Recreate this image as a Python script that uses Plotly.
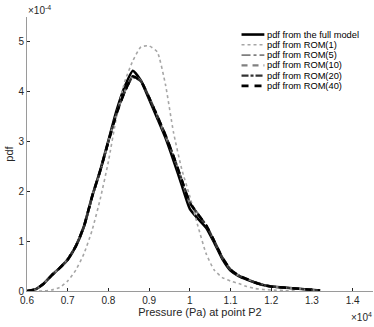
import plotly.graph_objects as go

# pressure grid (Pa) and pdf values (x 1e-4)
pressure = [6000, 6200, 6400, 6600, 6800, 7000, 7200, 7400, 7600, 7800,
            8000, 8200, 8400, 8600, 8800, 9000, 9200, 9400, 9600, 9800,
            10000, 10200, 10400, 10600, 10800, 11000, 11200, 11400, 11600, 11800,
            12000, 12300, 12600, 12900, 13200]

pdf_full = [0.0, 0.03, 0.14, 0.31, 0.46, 0.63, 0.9, 1.3, 1.9, 2.42,
            3.02, 3.62, 4.1, 4.42, 4.22, 3.85, 3.47, 3.08, 2.62, 2.13,
            1.65, 1.45, 1.27, 0.97, 0.64, 0.41, 0.3, 0.23, 0.17, 0.12,
            0.09, 0.07, 0.05, 0.03, 0.01]

pressure_rom1 = pressure[:31] + [12300, 12600]
pdf_rom1 = [0.0, 0.0, 0.0, 0.02, 0.07, 0.2, 0.42, 0.75, 1.22, 1.85,
            2.6, 3.5, 4.2, 4.62, 4.9, 4.92, 4.8, 4.15, 3.18, 2.45,
            1.9, 1.3, 0.75, 0.42, 0.27, 0.2, 0.15, 0.09, 0.05, 0.03,
            0.02, 0.01, 0.0]

pdf_rom5 = [0.0, 0.03, 0.14, 0.32, 0.47, 0.64, 0.91, 1.29, 1.88, 2.4,
            2.98, 3.55, 3.98, 4.28, 4.2, 3.9, 3.53, 3.15, 2.72, 2.25,
            1.8, 1.56, 1.33, 1.02, 0.68, 0.44, 0.32, 0.24, 0.18, 0.13,
            0.1, 0.07, 0.05, 0.03, 0.01]
pdf_rom10 = [0.0, 0.03, 0.14, 0.31, 0.46, 0.63, 0.91, 1.3, 1.9, 2.42,
             3.0, 3.57, 4.0, 4.32, 4.22, 3.88, 3.5, 3.12, 2.7, 2.22,
             1.76, 1.53, 1.32, 1.0, 0.67, 0.43, 0.31, 0.24, 0.17, 0.12,
             0.09, 0.07, 0.05, 0.03, 0.01]
pdf_rom20 = [0.0, 0.03, 0.14, 0.31, 0.46, 0.64, 0.9, 1.29, 1.89, 2.41,
             2.99, 3.56, 3.99, 4.3, 4.21, 3.89, 3.52, 3.14, 2.71, 2.24,
             1.78, 1.54, 1.32, 1.01, 0.67, 0.43, 0.31, 0.24, 0.17, 0.12,
             0.09, 0.07, 0.05, 0.03, 0.01]
pdf_rom40 = [0.0, 0.03, 0.14, 0.31, 0.46, 0.63, 0.9, 1.3, 1.9, 2.42,
             3.0, 3.56, 4.0, 4.31, 4.21, 3.88, 3.51, 3.13, 2.7, 2.23,
             1.77, 1.54, 1.32, 1.0, 0.67, 0.43, 0.31, 0.24, 0.17, 0.12,
             0.09, 0.07, 0.05, 0.03, 0.01]

xtick_vals = [6000, 7000, 8000, 9000, 10000, 11000, 12000, 13000, 14000]
xtick_text = ['0.6', '0.7', '0.8', '0.9', '1', '1.1', '1.2', '1.3', '1.4']
ytick_vals = [0, 1, 2, 3, 4, 5]

# name, y values, x values, color, dash, width
series = [
    ('pdf from the full model', pdf_full, pressure, '#000000', 'solid', 2.6),
    ('pdf from ROM(1)', pdf_rom1, pressure_rom1, '#a6a6a6', 'dot', 1.6),
    ('pdf from ROM(5)', pdf_rom5, pressure, '#7f7f7f', 'dashdot', 1.6),
    ('pdf from ROM(10)', pdf_rom10, pressure, '#808080', '6px,5px', 2.2),
    ('pdf from ROM(20)', pdf_rom20, pressure, '#333333', '7px,2px,3px,2px', 2.2),
    ('pdf from ROM(40)', pdf_rom40, pressure, '#000000', '7px,6px', 2.6),
]

fig = go.Figure()
for name, yv, xv, col, dash, w in series:
    fig.add_trace(go.Scatter(
        x=xv, y=[v * 1e-4 for v in yv], name=name, mode='lines',
        line=dict(color=col, dash=dash, width=w, shape='spline', smoothing=0.5),
        showlegend=False))

# compact legend drawn by hand (MATLAB-like spacing)
shapes = []
annotations = []
top = 0.936
step = 0.0375
for i, (name, yv, xv, col, dash, w) in enumerate(series):
    yy = top - i * step
    shapes.append(dict(type='line', xref='paper', yref='paper',
                       x0=0.620, x1=0.686, y0=yy, y1=yy,
                       line=dict(color=col, dash=dash, width=w)))
    annotations.append(dict(text=name, xref='paper', yref='paper',
                            x=0.692, y=yy, xanchor='left', yanchor='middle',
                            showarrow=False, borderpad=0,
                            font=dict(size=9.3, color='#000000')))

annotations.append(dict(text='\u00d710<sup>-4</sup>', xref='paper', yref='paper',
                        x=0, y=1, xanchor='left', yanchor='bottom', yshift=0,
                        showarrow=False, borderpad=0,
                        font=dict(size=10, color='#262626')))
annotations.append(dict(text='\u00d710<sup>4</sup>', xref='paper', yref='paper',
                        x=1, y=0, xanchor='right', yanchor='top', yshift=-19,
                        showarrow=False, borderpad=0,
                        font=dict(size=10, color='#262626')))

fig.update_layout(
    width=374, height=327,
    margin=dict(l=27, r=1, t=17, b=36),
    paper_bgcolor='white', plot_bgcolor='white',
    font=dict(family='Liberation Sans, Arial, sans-serif', size=10, color='#262626'),
    shapes=shapes, annotations=annotations,
    xaxis=dict(range=[6000, 14500], tickvals=xtick_vals, ticktext=xtick_text,
               ticks='inside', ticklen=3, tickcolor='#262626', showgrid=False,
               zeroline=False, showline=True, linecolor='#9a9a9a', linewidth=1,
               automargin=False,
               title=dict(text='Pressure (Pa) at point P2', font=dict(size=11), standoff=2)),
    yaxis=dict(range=[0, 5.5e-4], tickvals=[v * 1e-4 for v in ytick_vals],
               ticktext=[str(v) for v in ytick_vals],
               ticks='inside', ticklen=3, tickcolor='#262626', showgrid=False,
               zeroline=False, showline=True, linecolor='#9a9a9a', linewidth=1,
               automargin=False,
               title=dict(text='pdf', font=dict(size=11), standoff=2)),
)

# drop the default page margin so the figure sits at the window's corner
fig.write_html("out.html", config={'displayModeBar': False},
               post_script="document.body.style.margin='0';")
